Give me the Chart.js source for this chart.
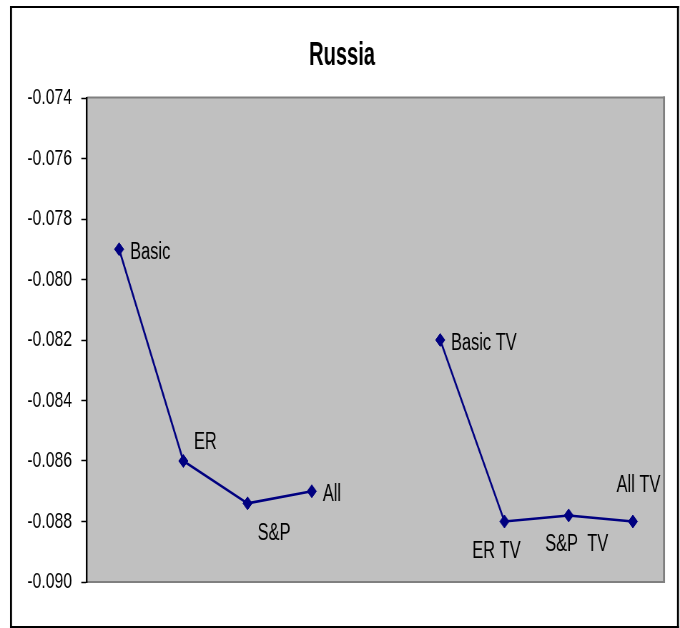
<!DOCTYPE html>
<html>
<head>
<meta charset="utf-8">
<script src="https://cdn.jsdelivr.net/npm/chart.js@4/dist/chart.umd.min.js"></script>
<style>
  html, body { margin: 0; padding: 0; background: #fff; }
  canvas { display: block; }
</style>
</head>
<body>
<canvas id="chart" width="951" height="628" style="width:680px;height:628px"></canvas>
<script>
// Categories (the empty slot separates the two groups)
const categories = ['Basic', 'ER', 'S&P', 'All', '', 'Basic TV', 'ER TV', 'S&P  TV', 'All TV'];
// Values per category
const values = [-0.0790, -0.0860, -0.0874, -0.0870, null, -0.0820, -0.0880, -0.0878, -0.0880];
// Value axis range and tick step
const yMin = -0.090;
const yMax = -0.074;
const yStep = 0.002;
const chartTitle = 'Russia';

// The canvas is drawn wider and displayed condensed horizontally.
const SX = 680 / 951;

// Label placement in displayed pixels, relative to each point
const labelPlacement = [
  { align: 'left',   dx: 11,   dy: 10 },
  { align: 'center', dx: 22,   dy: -12 },
  { align: 'center', dx: 26.5, dy: 36.5 },
  { align: 'left',   dx: 11,   dy: 9.5 },
  null,
  { align: 'left',   dx: 10.7, dy: 10 },
  { align: 'center', dx: -8,   dy: 36.3 },
  { align: 'center', dx: 8,    dy: 35.7 },
  { align: 'center', dx: 5.6,  dy: -29.4 }
];

const FONT = '"Liberation Sans", Arial, Helvetica, sans-serif';

const framePlugin = {
  id: 'frame',
  beforeDraw(chart) {
    const ctx = chart.ctx;
    const a = chart.chartArea;
    ctx.save();
    ctx.fillStyle = '#ffffff';
    ctx.fillRect(0, 0, chart.width, chart.height);
    // outer border
    ctx.fillStyle = '#000000';
    const L = 10 / SX, R = 679 / SX, vw = 2 / SX;
    ctx.fillRect(L, 6, R - L, 2);
    ctx.fillRect(L, 626, R - L, 2);
    ctx.fillRect(L, 6, vw, 622);
    ctx.fillRect(R - vw, 6, vw, 622);
    // plot area
    ctx.fillStyle = '#c0c0c0';
    ctx.fillRect(a.left, a.top, a.right - a.left, a.bottom - a.top);
    ctx.fillStyle = '#808080';
    ctx.fillRect(a.left, a.top - 1.5, a.right - a.left, 2);
    ctx.fillRect(a.left, a.bottom - 1, a.right - a.left, 2);
    ctx.fillRect(a.right - 2 / SX, a.top - 1.5, 2 / SX, a.bottom - a.top + 2.5);
    ctx.restore();
  },
  afterDraw(chart) {
    const ctx = chart.ctx;
    ctx.save();
    ctx.font = 'bold 34px ' + FONT;
    ctx.fillStyle = '#000000';
    ctx.textAlign = 'center';
    ctx.textBaseline = 'alphabetic';
    const w = ctx.measureText(chartTitle).width;
    const k = (66 / SX) / w;
    ctx.translate(342 / SX, 65);
    ctx.scale(k, 1);
    ctx.fillText(chartTitle, 0, 0);
    ctx.restore();
  }
};

const labelPlugin = {
  id: 'pointLabels',
  afterDatasetsDraw(chart) {
    const ctx = chart.ctx;
    const meta = chart.getDatasetMeta(0);
    ctx.save();
    ctx.font = '23px ' + FONT;
    ctx.fillStyle = '#000000';
    ctx.textBaseline = 'alphabetic';
    meta.data.forEach((pt, i) => {
      const p = labelPlacement[i];
      if (!p || values[i] === null) return;
      ctx.textAlign = p.align;
      ctx.fillText(categories[i], pt.x + p.dx / SX, pt.y + p.dy);
    });
    ctx.restore();
  }
};

new Chart(document.getElementById('chart'), {
  type: 'line',
  data: {
    labels: categories,
    datasets: [{
      data: values,
      borderColor: '#000080',
      backgroundColor: '#000080',
      borderWidth: 2.6,
      pointStyle: 'rectRot',
      pointRadius: 6.5,
      pointBorderWidth: 1,
      pointBorderColor: '#000080',
      pointBackgroundColor: '#000080',
      spanGaps: false,
      tension: 0
    }]
  },
  options: {
    responsive: false,
    animation: false,
    devicePixelRatio: 1,
    layout: { padding: { top: 98, bottom: 46, left: 0, right: 951 - 665 / SX } },
    plugins: { legend: { display: false }, title: { display: false }, tooltip: { enabled: false } },
    scales: {
      x: { type: 'category', offset: true, display: false },
      y: {
        min: yMin,
        max: yMax,
        afterFit(scale) { scale.width = 87 / SX; },
        border: { display: true, color: '#000000', width: 1.7 / SX },
        grid: { drawOnChartArea: false, drawTicks: true, tickLength: 8, tickColor: '#000000', tickWidth: 1.5 },
        ticks: {
          stepSize: yStep,
          padding: 13,
          color: '#000000',
          font: { family: FONT, size: 22 },
          callback: v => Number(v).toFixed(3)
        }
      }
    }
  },
  plugins: [framePlugin, labelPlugin]
});
</script>
</body>
</html>
